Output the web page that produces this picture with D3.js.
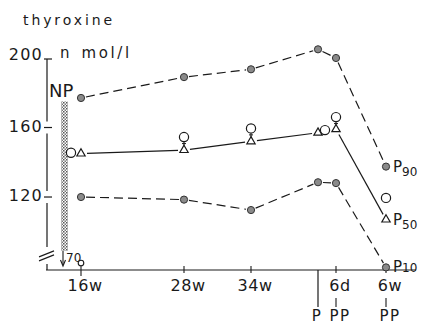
<!DOCTYPE html>
<html>
<head>
<meta charset="utf-8">
<script src="https://cdn.jsdelivr.net/npm/d3@7"></script>
<style>
  html, body { margin: 0; padding: 0; background: #fff; }
  svg { display: block; }
  text { font-family: "DejaVu Sans", sans-serif; fill: #1a1a1a; }
</style>
</head>
<body>
<div id="chart"></div>
<script>
// Serum thyroxine (nmol/l) through pregnancy and after delivery:
// 90th, 50th (mean = circle, median = triangle) and 10th percentiles.
const categories   = ["16w", "28w", "34w", "P", "6d", "6w"];
const tickLabels   = ["16w", "28w", "34w", "", "6d", "6w"];
const phaseLabels  = ["", "", "", "P", "PP", "PP"];
const p90          = [177, 189, 193.5, 205, 200, 137.5];
const p50Circle    = [145.5, 154.5, 159.5, 158.5, 166, 119.5];
const p50Triangle  = [145, 147, 152, 157, 159, 107];
const p10          = [120, 118.5, 112.5, 128.5, 128, 79.5];
const yTicks       = [120, 160, 200];
const npRange      = [70, 175];    // non-pregnant reference range
const axisBreakAt  = 89;           // value where the y axis is broken
const seriesLabels = [["P", "90"], ["P", "50"], ["P", "10"]];

const W = 421, H = 325;
const svg = d3.select("#chart").append("svg").attr("width", W).attr("height", H);

const x = d3.scaleOrdinal().domain(categories).range([81, 184, 251, 318, 336, 386]);
const y = d3.scaleLinear().domain([78, 200]).range([270, 58]);

const axisX = 47, baseY = y(78);
const ink = "#1a1a1a";

// stippled fill for the reference-range bar
const defs = svg.append("defs");
const pat = defs.append("pattern").attr("id", "stipple")
  .attr("width", 3).attr("height", 3).attr("patternUnits", "userSpaceOnUse");
pat.append("rect").attr("width", 3).attr("height", 3).attr("fill", "#fff");
pat.append("rect").attr("x", 0).attr("y", 0).attr("width", 1.5).attr("height", 1.5).attr("fill", "#555");
pat.append("rect").attr("x", 1.5).attr("y", 1.5).attr("width", 1.5).attr("height", 1.5).attr("fill", "#777");

// titles
svg.append("text").attr("x", 23).attr("y", 25).attr("font-size", 14)
  .attr("letter-spacing", 2.9).text("thyroxine");
svg.append("text").attr("x", 60).attr("y", 58).attr("font-size", 15)
  .attr("letter-spacing", 2.6).attr("word-spacing", 2).text("n mol/l");

// ---- y axis, drawn with gaps around its tick dashes ----
const gap = 6;
const stops = [y(200) + 1];
yTicks.filter(t => t < 200).sort((a, b) => b - a).forEach(t => { stops.push(y(t) - gap, y(t) + gap); });
stops.push(y(axisBreakAt) - 4);
for (let i = 0; i < stops.length; i += 2) {
  svg.append("line").attr("x1", axisX).attr("x2", axisX)
    .attr("y1", stops[i]).attr("y2", stops[i + 1])
    .attr("stroke", ink).attr("stroke-width", 1.2);
}
yTicks.forEach(t => {
  svg.append("line").attr("x1", axisX - 3).attr("x2", axisX + 5)
    .attr("y1", y(t) + (t === 200 ? 1 : 0)).attr("y2", y(t) + (t === 200 ? 1 : 0))
    .attr("stroke", ink).attr("stroke-width", 1.2);
  svg.append("text").attr("x", 43).attr("y", y(t) + (t === 200 ? 2 : 4)).attr("text-anchor", "end")
    .attr("font-size", 16).attr("letter-spacing", 1.2).text(t);
});

// axis break marks
const bY = y(axisBreakAt);
[0, 4].forEach(o => {
  svg.append("line").attr("x1", axisX - 8).attr("y1", bY + 6 + o)
    .attr("x2", axisX + 7).attr("y2", bY + o)
    .attr("stroke", ink).attr("stroke-width", 1.1);
});
svg.append("line").attr("x1", axisX).attr("x2", axisX)
  .attr("y1", bY + 13).attr("y2", baseY).attr("stroke", ink).attr("stroke-width", 1.2);

// x axis
svg.append("line").attr("x1", axisX - 1).attr("x2", 416)
  .attr("y1", baseY).attr("y2", baseY).attr("stroke", ink).attr("stroke-width", 1.2);

categories.forEach((c, i) => {
  const cx = x(c);
  if (phaseLabels[i] === "P") {
    // delivery: long tick down to the phase label
    svg.append("line").attr("x1", cx).attr("x2", cx).attr("y1", baseY).attr("y2", baseY + 37)
      .attr("stroke", ink).attr("stroke-width", 1.2);
  } else {
    svg.append("line").attr("x1", cx).attr("x2", cx).attr("y1", baseY - 4).attr("y2", baseY + (i === 0 ? 6 : 3))
      .attr("stroke", ink).attr("stroke-width", 1.1);
  }
  if (tickLabels[i]) {
    svg.append("text").attr("x", cx + 4).attr("y", baseY + 21).attr("text-anchor", "middle")
      .attr("font-size", 16).attr("letter-spacing", 0.5).text(tickLabels[i]);
  }
  if (phaseLabels[i]) {
    if (phaseLabels[i] !== "P") {
      svg.append("line").attr("x1", cx).attr("x2", cx).attr("y1", baseY + 28).attr("y2", baseY + 37)
        .attr("stroke", ink).attr("stroke-width", 1.1);
    }
    svg.append("text").attr("x", cx + (phaseLabels[i] === "P" ? -1 : 4)).attr("y", baseY + 51)
      .attr("text-anchor", "middle").attr("font-size", 15).attr("letter-spacing", 1.5)
      .text(phaseLabels[i]);
  }
});
// small loop on top of the first tick
svg.append("circle").attr("cx", x(categories[0])).attr("cy", baseY - 7).attr("r", 2.8)
  .attr("fill", "none").attr("stroke", ink).attr("stroke-width", 1.1);

// ---- non-pregnant range bar ----
const barX = 61, barW = 7;
svg.append("rect").attr("x", barX).attr("y", y(npRange[1]))
  .attr("width", barW).attr("height", y(axisBreakAt) - y(npRange[1]))
  .attr("fill", "url(#stipple)");
svg.append("text").attr("x", 49).attr("y", y(npRange[1]) - 4).attr("font-size", 18).text("NP");
const arX = barX + 2;
svg.append("line").attr("x1", arX).attr("x2", arX).attr("y1", y(axisBreakAt)).attr("y2", baseY - 5)
  .attr("stroke", ink).attr("stroke-width", 1.1);
svg.append("path")
  .attr("d", `M${arX - 2.5},${baseY - 10} L${arX},${baseY - 4} L${arX + 2.5},${baseY - 10}`)
  .attr("fill", "none").attr("stroke", ink).attr("stroke-width", 1.1);
svg.append("text").attr("x", arX + 3).attr("y", baseY - 8).attr("font-size", 12).text(npRange[0]);

// ---- series ----
// point positions; the mean circle steps aside when it would overlap the triangle
const pts = vals => vals.map((v, i) => ({ x: x(categories[i]), y: y(v) }));
const P90 = pts(p90), P10 = pts(p10), TRI = pts(p50Triangle);
const CIR = pts(p50Circle).map((p, i) =>
  Math.abs(p.y - TRI[i].y) < 8 ? { x: p.x + (i === 0 ? -10 : 7), y: p.y } : p);

function linkSegments(points, trim, dash) {
  for (let i = 0; i < points.length - 1; i++) {
    const a = points[i], b = points[i + 1];
    const dx = b.x - a.x, dy = b.y - a.y, len = Math.hypot(dx, dy);
    if (len - 2 * trim < 8) continue;       // too short to show between markers
    const ux = dx / len, uy = dy / len;
    svg.append("line")
      .attr("x1", a.x + ux * trim).attr("y1", a.y + uy * trim)
      .attr("x2", b.x - ux * trim).attr("y2", b.y - uy * trim)
      .attr("stroke", ink).attr("stroke-width", 1.2)
      .attr("stroke-dasharray", dash || null);
  }
}
linkSegments(P90, 5, "9,5");
linkSegments(P10, 5, "9,5");
linkSegments(TRI, 6, null);

// necks joining stacked circle and triangle
CIR.forEach((c, i) => {
  const t = TRI[i];
  if (c.x === t.x && t.y - c.y < 16) {
    svg.append("line").attr("x1", c.x).attr("x2", c.x).attr("y1", c.y + 4.5).attr("y2", t.y - 3.5)
      .attr("stroke", ink).attr("stroke-width", 1.1);
    svg.append("line").attr("x1", c.x - 2).attr("x2", c.x + 2).attr("y1", c.y + 6.5).attr("y2", c.y + 6.5)
      .attr("stroke", ink).attr("stroke-width", 1);
  }
});

const dots = [...P90, ...P10];
svg.selectAll(".dot").data(dots).enter().append("circle")
  .attr("cx", d => d.x).attr("cy", d => d.y).attr("r", 3.6)
  .attr("fill", "#8a8a8a").attr("stroke", "#333").attr("stroke-width", 1);
svg.selectAll(".cir").data(CIR).enter().append("circle")
  .attr("cx", d => d.x).attr("cy", d => d.y).attr("r", 4.6)
  .attr("fill", "#fff").attr("stroke", ink).attr("stroke-width", 1.2);
const tri = d3.symbol().type(d3.symbolTriangle).size(30);
svg.selectAll(".tri").data(TRI).enter().append("path")
  .attr("d", tri).attr("transform", d => `translate(${d.x},${d.y})`)
  .attr("fill", "#fff").attr("stroke", ink).attr("stroke-width", 1.2);

// end-of-line labels
[P90, TRI, P10].forEach((s, k) => {
  const last = s[s.length - 1];
  const t = svg.append("text").attr("x", last.x + 7).attr("y", last.y + 5).attr("font-size", 15);
  t.append("tspan").text(seriesLabels[k][0]);
  t.append("tspan").attr("dy", k === 2 ? 0 : 4).attr("font-size", 12).text(seriesLabels[k][1]);
});
</script>
</body>
</html>
